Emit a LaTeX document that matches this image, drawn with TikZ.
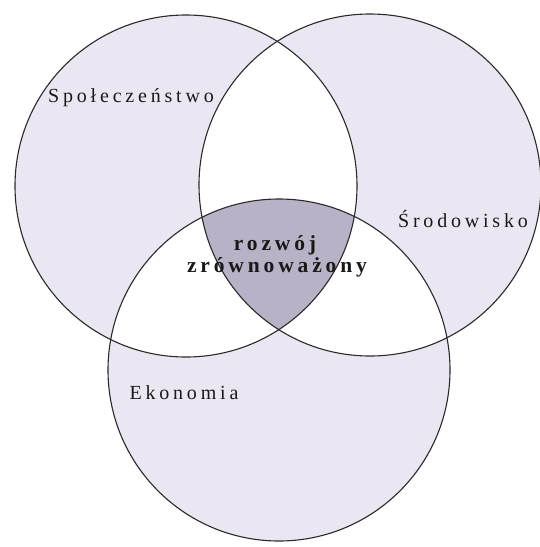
\documentclass[tikz,border=0pt]{standalone}
\usepackage{fontspec}
\setmainfont{Liberation Serif}
\newfontfamily\lblfont[LetterSpace=19]{Liberation Serif}
\newfontfamily\corefont[LetterSpace=18]{Liberation Serif}
\definecolor{lav}{HTML}{EBE7F2}
\definecolor{core}{HTML}{B9B1C6}
\definecolor{edge}{HTML}{2A2A2A}
\begin{document}
\begin{tikzpicture}[x=1pt,y=-1pt,
  lbl/.style={font=\lblfont\fontsize{20}{22}\selectfont, inner sep=0pt, text=black!90},
  corelbl/.style={font=\corefont\bfseries\fontsize{21.5}{23}\selectfont, inner sep=0pt, text=black!90},
  ring/.style={draw=edge, line width=1.1pt}]
\useasboundingbox (0,0) rectangle (540,547);
\fill[white] (0,0) rectangle (540,547);
\coordinate (A) at (186,186);
\coordinate (B) at (370,185);
\coordinate (C) at (279,370);
\def\R{171}
% base fills
\fill[lav] (A) circle (\R);
\fill[lav] (B) circle (\R);
\fill[lav] (C) circle (\R);
% pairwise intersections white
\begin{scope}\clip (A) circle (\R); \fill[white] (B) circle (\R); \fill[white] (C) circle (\R);\end{scope}
\begin{scope}\clip (B) circle (\R); \fill[white] (C) circle (\R);\end{scope}
% triple intersection
\begin{scope}\clip (A) circle (\R); \clip (B) circle (\R); \fill[core] (C) circle (\R);\end{scope}
% outlines
\draw[ring] (A) circle (\R);
\draw[ring] (B) circle (\R);
\draw[ring] (C) circle (\R);
% labels
\node[lbl, anchor=base] (spol) at (131,102) {Społeczeństwo};
\node[lbl, anchor=base] (srod) at (463,227) {Środowisko};
\node[lbl, anchor=base] (ekon) at (184,399) {Ekonomia};
\node[corelbl, anchor=base] (rozw) at (275,250) {rozwój};
\node[corelbl, anchor=base] (zrow) at (277,272) {zrównoważony};
\end{tikzpicture}
\end{document}
